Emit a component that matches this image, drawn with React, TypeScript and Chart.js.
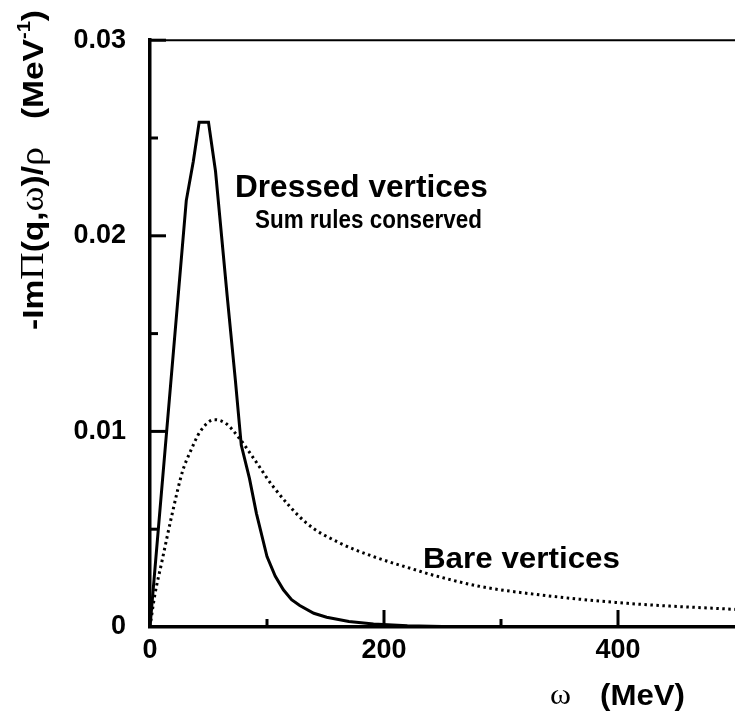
import React, { useEffect, useRef } from 'react';
import { Chart, registerables } from 'chart.js';

Chart.register(...registerables);

// ---- data ----
const omegaDressed = [0, 31, 37, 42, 50, 56, 66, 73, 78, 85, 91, 100, 107, 114, 121, 128, 140, 151, 170, 191, 220, 250, 300, 400, 500];
const dressedValues = [0, 0.0218, 0.0238, 0.0258, 0.0258, 0.0233, 0.0169, 0.0126, 0.0093, 0.0076, 0.0058, 0.0036, 0.0026, 0.0019, 0.0014, 0.0011, 0.0007, 0.0005, 0.00028, 0.00015, 0.00007, 0.00003, 0.00001, 0, 0];

const omegaBare = [0, 4, 10, 19, 28, 34, 43, 55, 65, 77, 90, 105, 134, 162, 191, 228, 239, 280, 325, 410, 500];
const bareValues = [0, 0.0016, 0.0033, 0.0058, 0.008, 0.0089, 0.01, 0.0106, 0.0104, 0.0096, 0.0085, 0.0072, 0.0053, 0.0043, 0.0036, 0.0029, 0.0027, 0.0021, 0.0017, 0.0012, 0.0009];

const xMajorTicks = [0, 200, 400];
const xTickLabels = ['0', '200', '400'];
const xMinorTicks = [100, 300];
const yMajorTicks = [0, 0.01, 0.02, 0.03];
const yTickLabels = ['0', '0.01', '0.02', '0.03'];
const yMinorTicks = [0.005, 0.015, 0.025];

const SANS_FAMILY = '"Liberation Sans", Arial, Helvetica, sans-serif';
const SERIF_FAMILY = '"Liberation Serif", "Times New Roman", serif';

type Part = { t: string; font: string; dy?: number };

function drawFitted(ctx: CanvasRenderingContext2D, parts: Part[], x: number, y: number, angle: number, targetLen: number) {
  let total = 0;
  const widths = parts.map((p) => {
    ctx.font = p.font;
    const w = ctx.measureText(p.t).width;
    total += w;
    return w;
  });
  const sx = targetLen / total;
  ctx.save();
  ctx.translate(x, y);
  ctx.rotate(angle);
  ctx.scale(sx, 1);
  ctx.fillStyle = '#000';
  ctx.textBaseline = 'alphabetic';
  ctx.textAlign = 'left';
  let cx = 0;
  parts.forEach((p, i) => {
    ctx.font = p.font;
    ctx.fillText(p.t, cx, p.dy || 0);
    cx += widths[i];
  });
  ctx.restore();
}

const framePlugin = {
  id: 'frameAndText',
  afterDatasetsDraw(chart: any) {
    const { ctx, chartArea: a, scales } = chart;
    const xs = scales.x;
    const ys = scales.y;
    ctx.save();
    ctx.strokeStyle = '#000';
    ctx.lineCap = 'butt';
    const line = (x1: number, y1: number, x2: number, y2: number, w: number) => {
      ctx.lineWidth = w;
      ctx.beginPath();
      ctx.moveTo(x1, y1);
      ctx.lineTo(x2, y2);
      ctx.stroke();
    };
    // top frame line
    line(a.left, a.top, a.right, a.top, 2);
    // inward ticks
    xMajorTicks.forEach((v) => {
      if (v === 0) return;
      const px = xs.getPixelForValue(v);
      line(px, a.bottom, px, a.bottom - 17, 3);
    });
    xMinorTicks.forEach((v) => {
      const px = xs.getPixelForValue(v);
      line(px, a.bottom, px, a.bottom - 8, 3);
    });
    yMajorTicks.forEach((v) => {
      if (v === 0) return;
      const py = ys.getPixelForValue(v);
      line(a.left, py, a.left + 16, py, 3);
    });
    yMinorTicks.forEach((v) => {
      const py = ys.getPixelForValue(v);
      line(a.left, py, a.left + 8, py, 3);
    });
    ctx.restore();

    // annotations (anchored in data coordinates)
    drawFitted(ctx, [{ t: 'Dressed vertices', font: `bold 31px ${SANS_FAMILY}` }],
      xs.getPixelForValue(72.6), ys.getPixelForValue(0.022), 0, 253);
    drawFitted(ctx, [{ t: 'Sum rules conserved', font: `bold 25px ${SANS_FAMILY}` }],
      xs.getPixelForValue(89.7), ys.getPixelForValue(0.0204), 0, 227);
    drawFitted(ctx, [{ t: 'Bare vertices', font: `bold 30px ${SANS_FAMILY}` }],
      xs.getPixelForValue(233.3), ys.getPixelForValue(0.00302), 0, 197);

    // x axis title
    drawFitted(ctx, [{ t: 'ω', font: `30px ${SERIF_FAMILY}` }], 550, 704, 0, 21);
    drawFitted(ctx, [{ t: '(MeV)', font: `bold 30px ${SANS_FAMILY}` }], 600, 705, 0, 85);

    // y axis title
    const S = `bold 30px ${SANS_FAMILY}`;
    const G = `34px ${SERIF_FAMILY}`;
    drawFitted(ctx, [
      { t: '-Im', font: S },
      { t: 'Π', font: G },
      { t: '(q,', font: S },
      { t: 'ω', font: G },
      { t: ')/', font: S },
      { t: 'ρ', font: G },
      { t: '   (MeV', font: S },
      { t: '-1', font: `bold 18px ${SANS_FAMILY}`, dy: -13 },
      { t: ')', font: S },
    ], 43, 330, -Math.PI / 2, 320);
  },
};

export default function App() {
  const ref = useRef<HTMLCanvasElement | null>(null);
  useEffect(() => {
    document.body.style.margin = '0';
    const canvas = ref.current;
    if (!canvas) return;
    const tickFont = { family: SANS_FAMILY, size: 27, weight: 'bold' as const };
    const chart = new Chart(canvas, {
      type: 'line',
      data: {
        datasets: [
          {
            label: 'Dressed vertices',
            data: omegaDressed.map((x, i) => ({ x, y: dressedValues[i] })),
            borderColor: '#000',
            borderWidth: 3,
            pointRadius: 0,
            tension: 0,
            fill: false,
          },
          {
            label: 'Bare vertices',
            data: omegaBare.map((x, i) => ({ x, y: bareValues[i] })),
            borderColor: '#000',
            borderWidth: 3,
            borderDash: [2.5, 3.5],
            pointRadius: 0,
            cubicInterpolationMode: 'monotone',
            fill: false,
          },
        ],
      },
      options: {
        animation: false,
        responsive: false,
        events: [],
        layout: { padding: { top: 40, right: 0, bottom: 0, left: 0 } },
        plugins: { legend: { display: false }, tooltip: { enabled: false }, title: { display: false } },
        scales: {
          x: {
            type: 'linear',
            min: 0,
            max: 500,
            afterBuildTicks: (s: any) => {
              s.ticks = xMajorTicks.map((v) => ({ value: v }));
            },
            afterFit: (s: any) => {
              s.height = 85;
            },
            grid: { display: false, drawTicks: false },
            border: { display: true, color: '#000', width: 3.5 },
            ticks: {
              color: '#000',
              font: tickFont,
              padding: 7,
              maxRotation: 0,
              autoSkip: false,
              callback: (_v: any, i: number) => xTickLabels[i],
            },
          },
          y: {
            type: 'linear',
            min: 0,
            max: 0.03,
            afterBuildTicks: (s: any) => {
              s.ticks = yMajorTicks.map((v) => ({ value: v }));
            },
            afterFit: (s: any) => {
              s.width = 150;
            },
            grid: { display: false, drawTicks: false },
            border: { display: true, color: '#000', width: 3.5 },
            ticks: {
              color: '#000',
              font: tickFont,
              padding: 24,
              autoSkip: false,
              callback: (_v: any, i: number) => yTickLabels[i],
            },
          },
        },
      },
      plugins: [framePlugin],
    });
    return () => chart.destroy();
  }, []);
  return <canvas ref={ref} width={735} height={712} style={{ display: 'block' }} />;
}
